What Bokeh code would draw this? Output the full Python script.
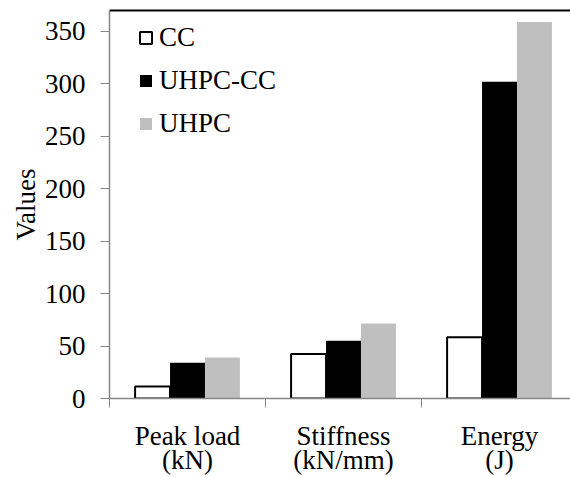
from bokeh.plotting import figure
from bokeh.models import (ColumnDataSource, Range1d, FixedTicker, Legend, LegendItem, LinearAxis)
from bokeh.transform import dodge
from bokeh.embed import file_html
from bokeh.resources import INLINE

categories = ["Peak load", "Stiffness", "Energy"]
units = ["(kN)", "(kN/mm)", "(J)"]
series = ["CC", "UHPC-CC", "UHPC"]
cc = [11.5, 42.5, 58.5]
uhpc_cc = [34, 55, 302]
uhpc = [39, 71.5, 359]
y_ticks = [0, 50, 100, 150, 200, 250, 300, 350]

centers = [i + 0.5 for i in range(len(categories))]
src = ColumnDataSource(dict(x=centers, cc=cc, uhpc_cc=uhpc_cc, uhpc=uhpc))

FONT = "'Liberation Serif', 'Times New Roman', serif"
FS = "27px"
p = figure(width=570, height=477, output_backend="svg", toolbar_location=None,
           x_range=Range1d(0, 2.955), y_range=Range1d(0, 370),
           min_border_left=109, min_border_right=0, min_border_top=10,
           min_border_bottom=0)
p.outline_line_color = None
p.xgrid.visible = False
p.ygrid.visible = False
p.background_fill_color = "white"
p.border_fill_color = "white"

bw = 0.224
r1 = p.vbar(x=dodge("x", -bw, range=p.x_range), top="cc", width=bw, source=src,
            fill_color="white", line_color="black", line_width=2)
r2 = p.vbar(x=dodge("x", 0, range=p.x_range), top="uhpc_cc", width=bw, source=src,
            fill_color="black", line_color=None)
r3 = p.vbar(x=dodge("x", bw, range=p.x_range), top="uhpc", width=bw, source=src,
            fill_color="#BFBFBF", line_color=None)

# main x axis (first line of labels)
xa = p.below[0]
xa.ticker = FixedTicker(ticks=centers, minor_ticks=[0, 1, 2, 3])
xa.major_label_overrides = {c: lab for c, lab in zip(centers, categories)}
xa.major_tick_out = 0
xa.major_tick_in = 0
xa.minor_tick_out = 9
xa.minor_tick_in = 0
xa.minor_tick_line_color = "#868686"
xa.axis_line_color = "#868686"
xa.axis_line_width = 1.5
xa.major_label_text_font = FONT
xa.major_label_text_font_size = FS
xa.major_label_text_color = "black"
xa.major_label_standoff = 13

# second line of x labels
unit_axis = LinearAxis(ticker=FixedTicker(ticks=centers, minor_ticks=[]),
                       major_label_overrides={c: u for c, u in zip(centers, units)},
                       major_tick_out=0, major_tick_in=0, minor_tick_out=0, minor_tick_in=0,
                       axis_line_color=None, major_label_standoff=-9,
                       major_label_text_font=FONT, major_label_text_font_size=FS,
                       major_label_text_color="black")
p.add_layout(unit_axis, "below")

# top border
top_axis = LinearAxis(ticker=FixedTicker(ticks=[], minor_ticks=[]),
                      major_tick_out=0, major_tick_in=0, minor_tick_out=0, minor_tick_in=0,
                      major_label_text_font_size="0px", major_label_standoff=0,
                      axis_line_color="black", axis_line_width=2)
p.add_layout(top_axis, "above")

# y axis
ya = p.left[0]
ya.ticker = FixedTicker(ticks=y_ticks, minor_ticks=[])
ya.major_tick_out = 9
ya.major_tick_in = 0
ya.major_tick_line_color = "#868686"
ya.axis_line_color = "#868686"
ya.axis_line_width = 1.5
ya.major_label_text_font = FONT
ya.major_label_text_font_size = FS
ya.major_label_text_color = "black"
ya.major_label_standoff = 15
ya.axis_label = "Values"
ya.axis_label_text_font = FONT
ya.axis_label_text_font_size = FS
ya.axis_label_text_font_style = "normal"
ya.axis_label_text_color = "black"
ya.axis_label_standoff = 1

legend = Legend(items=[LegendItem(label=series[0], renderers=[r1]),
                       LegendItem(label=series[1], renderers=[r2]),
                       LegendItem(label=series[2], renderers=[r3])],
                location=(29, 259), orientation="vertical",
                glyph_width=15, glyph_height=15, label_standoff=6,
                label_text_font=FONT, label_text_font_size=FS,
                label_text_color="black", spacing=12, padding=0, margin=0,
                border_line_color=None, background_fill_alpha=0)
p.add_layout(legend)

open("out.html", "w").write(file_html(p, INLINE))
